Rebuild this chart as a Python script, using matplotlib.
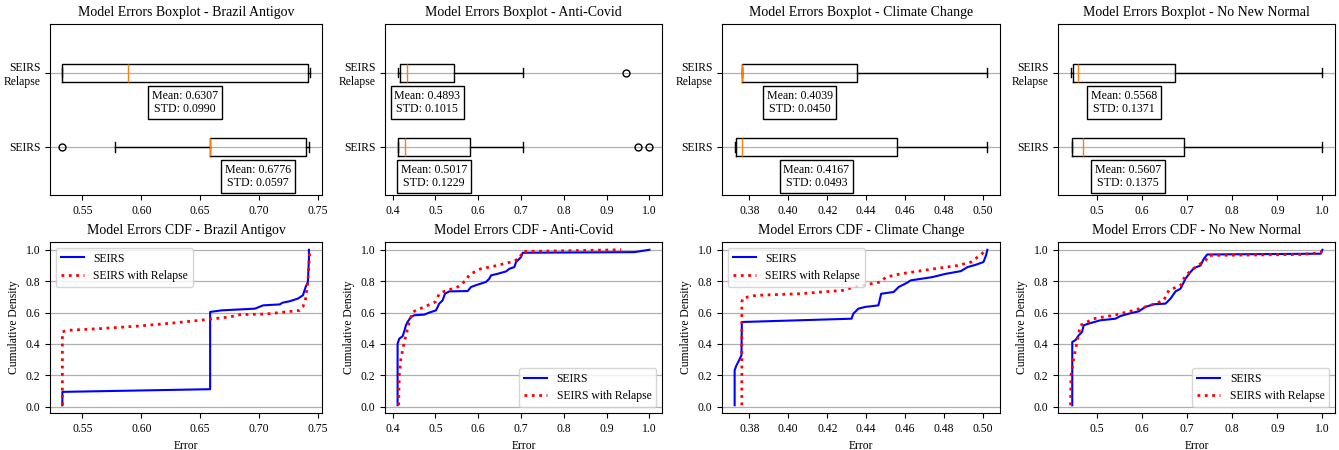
import matplotlib
matplotlib.use('Agg')
import matplotlib.pyplot as plt

plt.rcParams['font.family'] = ['Liberation Serif', 'DejaVu Serif']
plt.rcParams['font.size'] = 8.4

datasets = ['Brazil Antigov', 'Anti-Covid', 'Climate Change', 'No New Normal']
box_labels = ['SEIRS', 'SEIRS\nRelapse']
x_ticks = [[0.55, 0.60, 0.65, 0.70, 0.75],
           [0.4, 0.5, 0.6, 0.7, 0.8, 0.9, 1.0],
           [0.38, 0.40, 0.42, 0.44, 0.46, 0.48, 0.50],
           [0.5, 0.6, 0.7, 0.8, 0.9, 1.0]]
x_fmt = ['%.2f', '%.1f', '%.2f', '%.1f']

# boxplot stats, one value per dataset
seirs_lo = [0.5773, 0.4117, 0.3725, 0.4450]
seirs_q1 = [0.6585, 0.4117, 0.3733, 0.4450]
seirs_med = [0.6585, 0.4296, 0.3762, 0.4688]
seirs_q3 = [0.7396, 0.5816, 0.4556, 0.6920]
seirs_hi = [0.7424, 0.7040, 0.5022, 1.0000]
seirs_fliers = [[0.5330], [0.9729, 1.0], [], []]
seirs_mean = [0.6776, 0.5017, 0.4167, 0.5607]
seirs_std = [0.0597, 0.1229, 0.0493, 0.1375]

relapse_lo = [0.5330, 0.4117, 0.3762, 0.4413]
relapse_q1 = [0.5330, 0.4171, 0.3762, 0.4465]
relapse_med = [0.5889, 0.4335, 0.3762, 0.4577]
relapse_q3 = [0.7415, 0.5442, 0.4354, 0.6731]
relapse_hi = [0.7430, 0.7040, 0.5019, 1.0000]
relapse_fliers = [[], [0.9456], [], []]
relapse_mean = [0.6307, 0.4893, 0.4039, 0.5568]
relapse_std = [0.0990, 0.1015, 0.0450, 0.1371]

# CDF curves (error, cumulative density)
brazil_seirs_x = [0.533, 0.533, 0.6585, 0.6585, 0.668, 0.6965, 0.7035, 0.7176, 0.72, 0.726, 0.733, 0.7373, 0.7396, 0.7415, 0.7424, 0.7424]
brazil_seirs_y = [0.01, 0.095, 0.112, 0.604, 0.614, 0.625, 0.646, 0.652, 0.663, 0.672, 0.689, 0.71, 0.763, 0.795, 0.943, 1.0]
brazil_relapse_x = [0.533, 0.533, 0.537, 0.5655, 0.599, 0.6275, 0.65, 0.675, 0.684, 0.706, 0.7176, 0.7345, 0.7373, 0.7396, 0.7415, 0.743]
brazil_relapse_y = [0.01, 0.477, 0.487, 0.498, 0.515, 0.534, 0.551, 0.572, 0.587, 0.591, 0.6, 0.614, 0.636, 0.689, 0.795, 0.985]

covid_seirs_x = [0.4117, 0.4117, 0.4156, 0.4234, 0.4273, 0.4312, 0.435, 0.4429, 0.4507, 0.474, 0.4857, 0.5013, 0.509, 0.5169, 0.5224, 0.5325, 0.5754, 0.5832, 0.5988, 0.6182, 0.626, 0.6299, 0.6455, 0.665, 0.6728, 0.6846, 0.6884, 0.70, 0.704, 0.965, 1.0]
covid_seirs_y = [0.01, 0.402, 0.434, 0.449, 0.481, 0.519, 0.54, 0.572, 0.583, 0.587, 0.60, 0.614, 0.657, 0.678, 0.72, 0.735, 0.737, 0.763, 0.778, 0.795, 0.816, 0.837, 0.847, 0.862, 0.879, 0.89, 0.922, 0.953, 0.981, 0.985, 1.0]
covid_relapse_x = [0.414, 0.4156, 0.4195, 0.4273, 0.439, 0.4468, 0.474, 0.50, 0.509, 0.5208, 0.552, 0.5715, 0.5793, 0.606, 0.6377, 0.6767, 0.6962, 0.704, 0.934]
covid_relapse_y = [0.01, 0.20, 0.307, 0.413, 0.54, 0.604, 0.636, 0.668, 0.72, 0.735, 0.763, 0.805, 0.841, 0.879, 0.896, 0.922, 0.943, 0.989, 1.0]

climate_seirs_x = [0.3725, 0.3725, 0.3733, 0.3748, 0.3760, 0.3762, 0.4325, 0.4334, 0.4360, 0.4395, 0.4463, 0.4477, 0.4541, 0.4567, 0.4610, 0.4628, 0.4740, 0.4809, 0.4886, 0.4921, 0.4964, 0.5002, 0.5015, 0.5022]
climate_seirs_y = [0.01, 0.233, 0.26, 0.297, 0.328, 0.54, 0.561, 0.593, 0.625, 0.636, 0.646, 0.72, 0.731, 0.763, 0.79, 0.805, 0.826, 0.847, 0.864, 0.89, 0.905, 0.922, 0.964, 1.0]
climate_relapse_x = [0.3762, 0.3762, 0.3767, 0.3836, 0.4060, 0.4285, 0.4337, 0.4475, 0.4501, 0.4578, 0.4750, 0.4870, 0.4939, 0.4983, 0.5019]
climate_relapse_y = [0.01, 0.667, 0.693, 0.71, 0.72, 0.742, 0.763, 0.795, 0.826, 0.847, 0.879, 0.90, 0.922, 0.964, 1.0]

nnn_seirs_x = [0.4450, 0.4450, 0.4519, 0.4593, 0.4667, 0.4704, 0.4815, 0.5074, 0.5407, 0.5519, 0.5704, 0.5926, 0.6074, 0.6259, 0.6519, 0.663, 0.6741, 0.6852, 0.6963, 0.7074, 0.7148, 0.7296, 0.737, 0.7444, 0.9963, 1.0]
nnn_seirs_y = [0.01, 0.413, 0.424, 0.455, 0.477, 0.519, 0.53, 0.551, 0.561, 0.578, 0.593, 0.608, 0.636, 0.653, 0.657, 0.689, 0.735, 0.752, 0.816, 0.858, 0.883, 0.90, 0.943, 0.97, 0.975, 1.0]
nnn_relapse_x = [0.4413, 0.4422, 0.4481, 0.4556, 0.463, 0.4926, 0.537, 0.5815, 0.6185, 0.6481, 0.6593, 0.6852, 0.6963, 0.7185, 0.7407, 0.7481, 0.9519, 0.9963, 1.0]
nnn_relapse_y = [0.01, 0.20, 0.307, 0.413, 0.519, 0.561, 0.583, 0.614, 0.646, 0.678, 0.742, 0.773, 0.837, 0.89, 0.932, 0.964, 0.97, 0.981, 1.0]

cdf_seirs = [(brazil_seirs_x, brazil_seirs_y), (covid_seirs_x, covid_seirs_y),
             (climate_seirs_x, climate_seirs_y), (nnn_seirs_x, nnn_seirs_y)]
cdf_relapse = [(brazil_relapse_x, brazil_relapse_y), (covid_relapse_x, covid_relapse_y),
               (climate_relapse_x, climate_relapse_y), (nnn_relapse_x, nnn_relapse_y)]
legend_loc = ['upper left', 'lower right', 'upper left', 'lower right']

# axes placement in pixels (left, width)
col_px = [(50, 272), (385, 277), (722, 278), (1058, 277)]
W, H = 1339, 450

fig = plt.figure(figsize=(W / 100, H / 100), dpi=100)

for i, name in enumerate(datasets):
    left, width = col_px[i]
    ax = fig.add_axes([left / W, 1 - 195 / H, width / W, 171 / H])
    stats = [
        dict(whislo=seirs_lo[i], q1=seirs_q1[i], med=seirs_med[i], q3=seirs_q3[i],
             whishi=seirs_hi[i], fliers=seirs_fliers[i], label=box_labels[0]),
        dict(whislo=relapse_lo[i], q1=relapse_q1[i], med=relapse_med[i], q3=relapse_q3[i],
             whishi=relapse_hi[i], fliers=relapse_fliers[i], label=box_labels[1]),
    ]
    ax.bxp(stats, positions=[1, 2], widths=0.25, orientation='horizontal',
           flierprops=dict(marker='o', markersize=5, markerfacecolor='none'),
           medianprops=dict(color='#ff7f0e', linewidth=1))
    ax.set_ylim(0.35, 2.66)
    ax.set_xticks(x_ticks[i], [x_fmt[i] % t for t in x_ticks[i]])
    ax.grid(axis='y', color='#b0b0b0', linewidth=0.9)
    ax.set_axisbelow(True)
    ax.set_title('Model Errors Boxplot - ' + name, fontsize=10)
    means = [seirs_mean[i], relapse_mean[i]]
    stds = [seirs_std[i], relapse_std[i]]
    for k, pos in enumerate([1, 2]):
        q1 = stats[k]['q1']
        q3 = stats[k]['q3']
        ax.text((q1 + q3) / 2, pos - 0.4, 'Mean: %.4f\nSTD: %.4f' % (means[k], stds[k]),
                ha='center', va='center', fontsize=8.6,
                bbox=dict(boxstyle='square', facecolor='white', edgecolor='black'))

    ax2 = fig.add_axes([left / W, 1 - 413 / H, width / W, 171 / H])
    sx, sy = cdf_seirs[i]
    rx, ry = cdf_relapse[i]
    ax2.plot(sx, sy, color='blue', linewidth=1.5, label='SEIRS')
    ax2.plot(rx, ry, color='red', linestyle=':', linewidth=2, label='SEIRS with Relapse')
    ax2.set_xticks(x_ticks[i], [x_fmt[i] % t for t in x_ticks[i]])
    ax2.set_yticks([0.0, 0.2, 0.4, 0.6, 0.8, 1.0])
    ax2.grid(axis='y', color='#b0b0b0', linewidth=0.9)
    ax2.set_title('Model Errors CDF - ' + name, fontsize=10)
    ax2.set_xlabel('Error')
    ax2.set_ylabel('Cumulative Density')
    ax2.legend(loc=legend_loc[i])

fig.savefig('out.png', dpi=100)
